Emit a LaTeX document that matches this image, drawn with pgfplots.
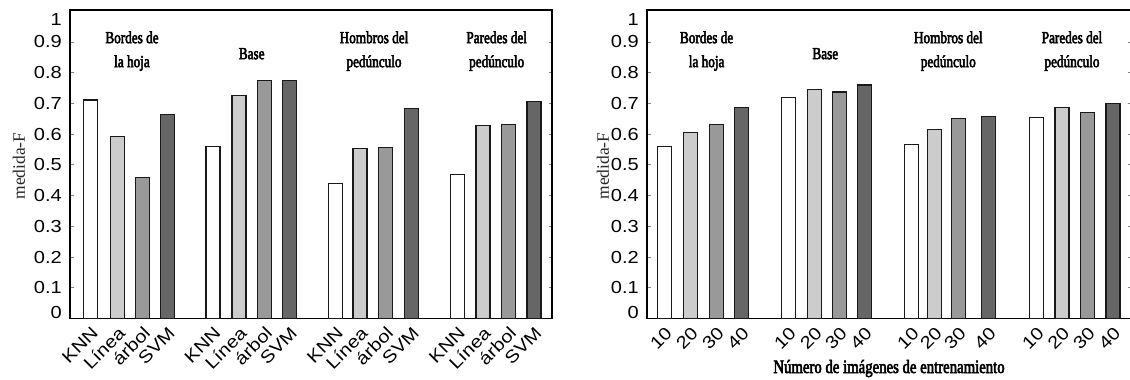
\documentclass[border=0pt]{standalone}
\usepackage{fontspec}
\setmainfont{Liberation Serif}
\newfontfamily\sansf[FakeStretch=1.15]{Liberation Sans}
\newfontfamily\cond[FakeStretch=0.78,FakeBold=3]{Liberation Serif}
\usepackage{pgfplots}
\pgfplotsset{compat=1.18}
\definecolor{gA}{gray}{1.0}
\definecolor{gB}{gray}{0.8}
\definecolor{gC}{gray}{0.6}
\definecolor{gD}{gray}{0.4}
\pgfplotsset{
  chart/.style={
    scale only axis, height=308.5bp,
    ymin=0, ymax=1.004,
    ytick={0.1,0.2,0.3,0.4,0.5,0.6,0.7,0.8,0.9},
    extra y ticks={0.019,0.972},
    extra y tick labels={0,1},
    extra y tick style={major tick length=0pt},
    yticklabel pos=left,
    /pgf/number format/assume math mode=true,
    yticklabel style={font=\sansf\fontsize{17.5}{17.5}\selectfont, inner sep=0pt, xshift=-8bp},
    xticklabel style={font=\sansf\fontsize{17.5}{17.5}\selectfont, rotate=45, anchor=east, inner sep=0pt, xshift=-2.5bp, yshift=-8.8bp},
    tick align=inside,
    major tick length=3.5bp,
    xtick style={draw=none},
    ytick style={line width=0.9pt},
    axis line style={line width=1.3pt},
    ybar, bar width=14, bar shift=0pt,
    every axis plot/.append style={draw=black!90, line width=1.1pt},
    clip=false,
    ylabel={\fontsize{17.5}{17.5}\selectfont medida-F},
    ylabel style={anchor=center, color=black!85},
  }
}
\begin{document}
\begin{tikzpicture}
\useasboundingbox (0,0) rectangle (1130bp,380bp);
% ---------- left chart ----------
\begin{axis}[chart, at={(70bp,61.5bp)}, anchor=south west,
  width=482bp, xmin=70, xmax=552,
  xtick={90.5,117.5,142.5,167.5,213,239,264.5,289.5,335.5,360,385.5,411.5,457.5,483,508.5,534},
  xticklabels={KNN,Línea,árbol,SVM,KNN,Línea,árbol,SVM,KNN,Línea,árbol,SVM,KNN,Línea,árbol,SVM},
  ylabel style={at={(axis description cs:-0.1058,0.494)}},
]
\addplot[fill=gA] coordinates {(90.5,0.711) (213,0.559) (335.5,0.440) (457.5,0.469)};
\addplot[fill=gB] coordinates {(117.5,0.592) (239,0.727) (360,0.552) (483,0.629)};
\addplot[fill=gC] coordinates {(142.5,0.458) (264.5,0.774) (385.5,0.557) (508.5,0.632)};
\addplot[fill=gD] coordinates {(167.5,0.665) (289.5,0.774) (411.5,0.683) (534,0.705)};
\begin{scope}[every node/.style={font=\cond\fontsize{17}{17}\selectfont, anchor=base, inner sep=0pt}]
\node at (axis cs:132,0.896) {Bordes de};
\node at (axis cs:132,0.818) {la hoja};
\node at (axis cs:251.7,0.844) {Base};
\node at (axis cs:374,0.896) {Hombros del};
\node at (axis cs:374,0.818) {pedúnculo};
\node at (axis cs:496.7,0.896) {Paredes del};
\node at (axis cs:496.7,0.818) {pedúnculo};
\end{scope}
\end{axis}
% ---------- right chart ----------
\begin{axis}[chart, at={(647bp,61.5bp)}, anchor=south west,
  width=484bp, xmin=647, xmax=1131,
  xtick={664.5,690.5,716.5,741.5,788.5,814.5,839.5,864.5,911.5,934.5,958.5,988.5,1036.5,1062,1087.5,1113},
  xticklabels={10,20,30,40,10,20,30,40,10,20,30,40,10,20,30,40},
  ylabel style={at={(axis description cs:-0.091,0.494)}},
]
\addplot[fill=gA] coordinates {(664.5,0.559) (788.5,0.720) (911.5,0.567) (1036.5,0.655)};
\addplot[fill=gB] coordinates {(690.5,0.606) (814.5,0.746) (934.5,0.616) (1062,0.686)};
\addplot[fill=gC] coordinates {(716.5,0.632) (839.5,0.737) (958.5,0.651) (1087.5,0.671)};
\addplot[fill=gD] coordinates {(741.5,0.686) (864.5,0.760) (988.5,0.658) (1113,0.701)};
\begin{scope}[every node/.style={font=\cond\fontsize{17}{17}\selectfont, anchor=base, inner sep=0pt}]
\node at (axis cs:706.6,0.896) {Bordes de};
\node at (axis cs:706.6,0.818) {la hoja};
\node at (axis cs:825.3,0.844) {Base};
\node at (axis cs:948.3,0.896) {Hombros del};
\node at (axis cs:948.3,0.818) {pedúnculo};
\node at (axis cs:1072,0.896) {Paredes del};
\node at (axis cs:1072,0.818) {pedúnculo};
\end{scope}
\node[font=\cond\fontsize{19}{19}\selectfont, anchor=base, inner sep=0pt] at (axis cs:889,-0.1774) {Número de imágenes de entrenamiento};
\end{axis}
\end{tikzpicture}
\end{document}
